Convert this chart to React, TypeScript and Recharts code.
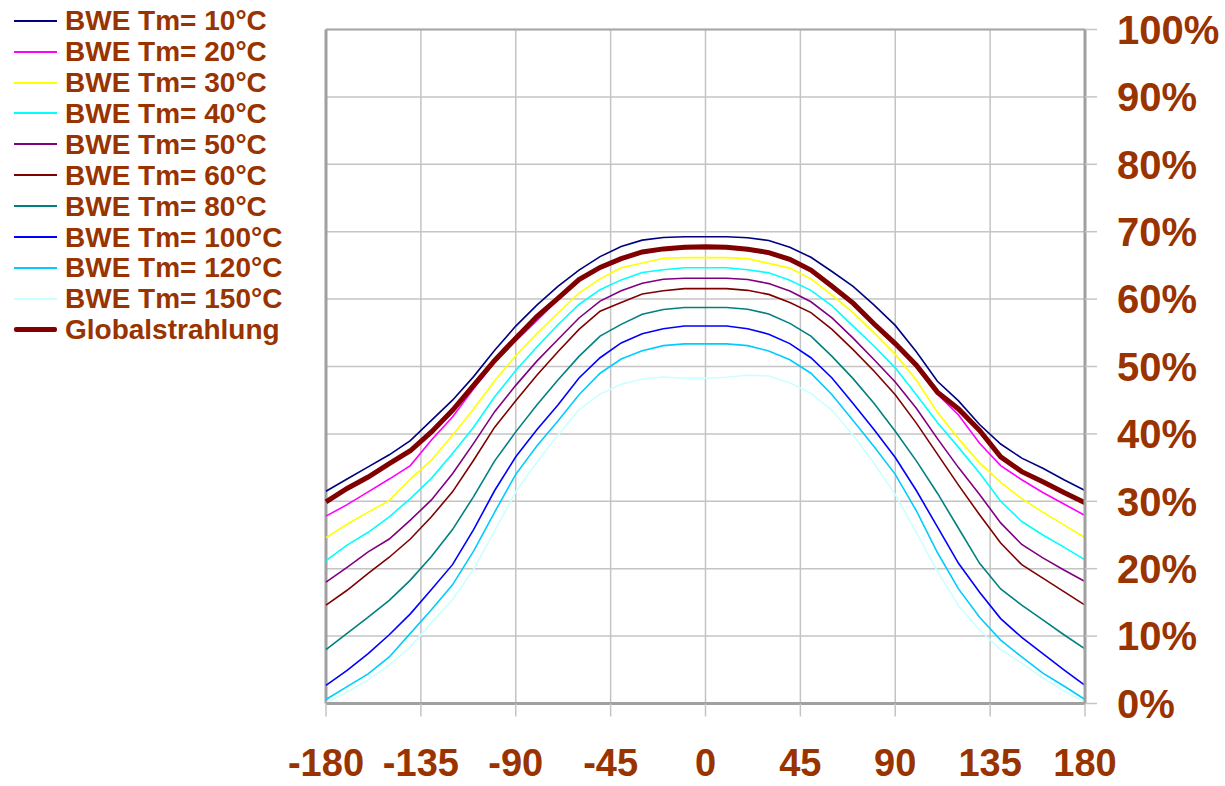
import React from 'react';
import { LineChart, Line, XAxis, YAxis, CartesianGrid, ReferenceLine } from 'recharts';

const ANGLES = [-180, -170, -160, -150, -140, -130, -120, -110, -100, -90, -80, -70, -60, -50, -40, -30, -20, -10, 0, 10, 20, 30, 40, 50, 60, 70, 80, 90, 100, 110, 120, 130, 140, 150, 160, 170, 180];
const X_TICKS = [-180, -135, -90, -45, 0, 45, 90, 135, 180];
const Y_TICKS = [0, 10, 20, 30, 40, 50, 60, 70, 80, 90, 100];

const TM10 = [31.5, 33.3, 35.1, 36.9, 39.0, 42.0, 45.0, 48.5, 52.4, 56.0, 59.1, 61.9, 64.3, 66.3, 67.8, 68.75, 69.15, 69.25, 69.25, 69.25, 69.1, 68.7, 67.7, 66.2, 64.1, 61.9, 59.1, 56.1, 52.2, 47.8, 44.9, 41.4, 38.5, 36.4, 34.9, 33.2, 31.6];
const TM20 = [27.8, 29.5, 31.4, 33.3, 35.3, 39.1, 42.5, 46.7, 50.6, 53.8, 56.8, 59.9, 62.7, 64.5, 65.8, 66.8, 67.3, 67.5, 67.55, 67.5, 67.2, 66.7, 65.7, 64.1, 61.7, 59.2, 56.1, 53.1, 50.0, 45.9, 42.8, 38.6, 35.3, 33.2, 31.3, 29.6, 27.9];
const TM30 = [24.6, 26.6, 28.4, 30.1, 33.3, 36.1, 39.8, 43.7, 47.9, 51.6, 54.9, 57.9, 60.9, 63.0, 64.65, 65.35, 66.05, 66.15, 66.15, 66.15, 66.0, 65.3, 64.6, 63.0, 60.6, 58.0, 55.0, 51.8, 48.0, 43.2, 39.3, 35.7, 32.8, 30.4, 28.4, 26.5, 24.6];
const TM40 = [21.2, 23.5, 25.4, 27.7, 30.4, 33.4, 37.1, 41.0, 45.5, 49.4, 52.9, 56.2, 59.2, 61.4, 62.85, 63.95, 64.35, 64.65, 64.65, 64.65, 64.35, 63.9, 62.8, 61.3, 59.0, 56.0, 53.0, 49.8, 45.8, 41.7, 38.0, 34.2, 30.0, 27.0, 25.0, 23.2, 21.3];
const TM50 = [18.0, 20.2, 22.5, 24.4, 27.2, 30.2, 34.1, 38.6, 43.3, 47.2, 50.8, 54.0, 57.2, 59.7, 61.25, 62.35, 62.95, 63.1, 63.1, 63.1, 62.9, 62.3, 61.2, 59.6, 57.2, 54.2, 51.0, 47.7, 43.8, 39.3, 35.0, 31.0, 26.8, 23.6, 21.6, 19.8, 18.1];
const TM60 = [14.6, 16.8, 19.3, 21.7, 24.4, 27.7, 31.4, 36.1, 41.0, 44.9, 48.7, 52.2, 55.5, 58.2, 59.5, 60.75, 61.25, 61.55, 61.55, 61.55, 61.3, 60.7, 59.5, 58.0, 55.5, 52.5, 49.3, 45.8, 41.6, 37.0, 32.4, 28.0, 23.8, 20.6, 18.6, 16.6, 14.6];
const TM80 = [8.0, 10.4, 12.8, 15.3, 18.3, 21.8, 25.8, 30.7, 36.0, 40.3, 44.3, 48.0, 51.5, 54.5, 56.25, 57.75, 58.45, 58.75, 58.75, 58.75, 58.5, 57.8, 56.4, 54.5, 51.5, 48.2, 44.5, 40.4, 36.0, 31.2, 26.0, 20.8, 17.0, 14.6, 12.4, 10.2, 8.1];
const TM100 = [2.7, 4.9, 7.4, 10.2, 13.3, 16.9, 20.6, 25.8, 31.6, 36.6, 40.6, 44.3, 48.3, 51.3, 53.5, 54.85, 55.6, 56.0, 56.0, 56.0, 55.6, 54.8, 53.4, 51.3, 48.3, 44.5, 40.6, 36.5, 31.6, 26.2, 20.8, 16.5, 12.6, 9.8, 7.4, 5.0, 2.7];
const TM120 = [0.6, 2.5, 4.4, 6.9, 10.4, 13.9, 17.6, 22.6, 28.4, 34.0, 38.2, 41.9, 45.8, 49.0, 51.1, 52.35, 53.1, 53.35, 53.35, 53.35, 53.1, 52.3, 51.0, 49.0, 45.8, 42.0, 38.1, 34.0, 28.6, 22.4, 17.0, 12.8, 9.4, 6.9, 4.5, 2.6, 0.6];
const TM150 = [0.1, 1.7, 3.5, 5.7, 8.4, 12.0, 15.4, 19.9, 25.6, 31.4, 35.8, 39.8, 43.6, 45.9, 47.35, 48.15, 48.45, 48.25, 48.25, 48.4, 48.7, 48.6, 47.6, 46.0, 43.5, 39.8, 35.6, 31.0, 25.4, 19.6, 14.5, 10.9, 8.0, 6.0, 3.8, 1.9, 0.2];
const GLOBAL = [29.9, 31.9, 33.6, 35.6, 37.5, 40.3, 43.5, 47.2, 50.9, 54.2, 57.4, 60.1, 62.9, 64.7, 66.0, 67.0, 67.45, 67.7, 67.75, 67.7, 67.4, 66.9, 65.9, 64.3, 61.9, 59.4, 56.3, 53.4, 50.2, 46.2, 43.7, 40.5, 36.6, 34.4, 32.9, 31.3, 29.8];

const SERIES = [
  { key: 'tm10', name: 'BWE Tm= 10°C', values: TM10, color: '#000080', width: 1.6 },
  { key: 'tm20', name: 'BWE Tm= 20°C', values: TM20, color: '#ff00ff', width: 1.6 },
  { key: 'tm30', name: 'BWE Tm= 30°C', values: TM30, color: '#ffff00', width: 1.6 },
  { key: 'tm40', name: 'BWE Tm= 40°C', values: TM40, color: '#00ffff', width: 1.6 },
  { key: 'tm50', name: 'BWE Tm= 50°C', values: TM50, color: '#800080', width: 1.6 },
  { key: 'tm60', name: 'BWE Tm= 60°C', values: TM60, color: '#800000', width: 1.6 },
  { key: 'tm80', name: 'BWE Tm= 80°C', values: TM80, color: '#008080', width: 1.6 },
  { key: 'tm100', name: 'BWE Tm= 100°C', values: TM100, color: '#0000ff', width: 1.6 },
  { key: 'tm120', name: 'BWE Tm= 120°C', values: TM120, color: '#00ccff', width: 1.6 },
  { key: 'tm150', name: 'BWE Tm= 150°C', values: TM150, color: '#ccffff', width: 1.6 },
  { key: 'global', name: 'Globalstrahlung', values: GLOBAL, color: '#800000', width: 5 },
];

const rows = ANGLES.map((a, i) => {
  const r: Record<string, number> = { angle: a };
  SERIES.forEach((s) => {
    r[s.key] = s.values[i];
  });
  return r;
});

const FONT = '"Liberation Sans", Arial, sans-serif';
const LABEL = '#993300';

export default function App() {
  return (
    <div style={{ position: 'absolute', left: 0, top: 0, width: 1225, height: 786, background: '#ffffff' }}>
      <LineChart width={1225} height={786} data={rows} margin={{ top: 29.5, right: 0, bottom: 0, left: 326 }}>
        <CartesianGrid stroke="#c4c4c4" strokeWidth={1.5} />
        <XAxis
          dataKey="angle"
          type="number"
          domain={[-180, 180]}
          ticks={X_TICKS}
          interval={0}
          height={82.5}
          axisLine={{ stroke: '#a0a0a0', strokeWidth: 3 }}
          tickLine={{ stroke: '#c4c4c4', strokeWidth: 1.5 }}
          tickSize={13}
          tickMargin={33}
          tick={{ fill: LABEL, fontSize: 38, fontWeight: 'bold', fontFamily: FONT }}
        />
        <YAxis
          orientation="right"
          domain={[0, 100]}
          ticks={Y_TICKS}
          interval={0}
          width={140}
          tickFormatter={(v: number) => `${v}%`}
          axisLine={{ stroke: '#a0a0a0', strokeWidth: 3 }}
          tickLine={{ stroke: '#c4c4c4', strokeWidth: 1.5 }}
          tickSize={12}
          tickMargin={20}
          tick={{ fill: LABEL, fontSize: 40, fontWeight: 'bold', fontFamily: FONT }}
        />
        <ReferenceLine x={-180} stroke="#a0a0a0" strokeWidth={3} />
        <ReferenceLine y={100} stroke="#a8a8a8" strokeWidth={2} />
        {SERIES.map((s) => (
          <Line
            key={s.key}
            dataKey={s.key}
            name={s.name}
            type="linear"
            stroke={s.color}
            strokeWidth={s.width}
            dot={false}
            activeDot={false}
            isAnimationActive={false}
          />
        ))}
      </LineChart>
      {SERIES.map((s, i) => (
        <div
          key={s.key}
          style={{
            position: 'absolute',
            left: 14,
            top: 20.7 + i * 30.9 - 15.5,
            height: 31,
            display: 'flex',
            alignItems: 'center',
            whiteSpace: 'nowrap',
          }}
        >
          <div style={{ width: 43, height: s.width > 2 ? 5 : 2, background: s.color, borderRadius: s.width > 2 ? 2 : 0 }} />
          <span
            style={{
              marginLeft: 8,
              fontFamily: FONT,
              fontWeight: 'bold',
              fontSize: 28,
              lineHeight: '31px',
              color: LABEL,
            }}
          >
            {s.name}
          </span>
        </div>
      ))}
    </div>
  );
}
